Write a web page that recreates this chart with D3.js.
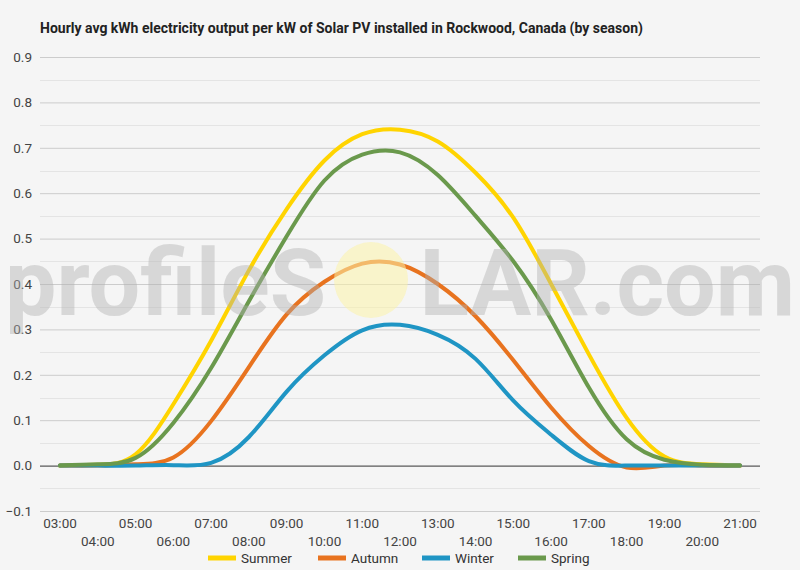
<!DOCTYPE html>
<html>
<head>
<meta charset="utf-8">
<script src="https://cdn.jsdelivr.net/npm/d3@7"></script>
<style>
  body { margin: 0; background: #f5f5f5; }
  svg { font-family: Roboto, "Liberation Sans", sans-serif; }
</style>
</head>
<body>
<script>
// hours of the day (x)
var hours = [3, 4, 5, 6, 7, 8, 9, 10, 11, 12, 13, 14, 15, 16, 17, 18, 19, 20, 21];
var hourLabels = hours.map(function(h) { return (h < 10 ? "0" : "") + h + ":00"; });
var yTicks = [-0.1, 0, 0.1, 0.2, 0.3, 0.4, 0.5, 0.6, 0.7, 0.8, 0.9];

// kWh per kW
var summer = [0, 0.002, 0.025, 0.135, 0.275, 0.43, 0.565, 0.672, 0.73, 0.74, 0.714, 0.645, 0.546, 0.40, 0.245, 0.105, 0.02, 0.003, 0];
var autumn = [0, 0, 0.003, 0.018, 0.098, 0.217, 0.333, 0.405, 0.445, 0.443, 0.40, 0.329, 0.232, 0.128, 0.043, -0.004, 0, 0, 0];
var winter = [0, 0, 0, 0.001, 0.006, 0.063, 0.163, 0.243, 0.298, 0.31, 0.288, 0.235, 0.143, 0.068, 0.01, 0, 0, 0, 0];
var spring = [0, 0.003, 0.017, 0.094, 0.215, 0.362, 0.505, 0.628, 0.685, 0.69, 0.64, 0.55, 0.45, 0.322, 0.172, 0.058, 0.013, 0.002, 0];

var seriesNames = ["Summer", "Autumn", "Winter", "Spring"];
var seriesValues = [summer, autumn, winter, spring];
var seriesColors = ["#ffd400", "#e8731f", "#1f95c4", "#6a994c"];

var width = 800, height = 570;
var svg = d3.select("body")
    .append("svg")
    .attr("width", width)
    .attr("height", height)
    .style("background-color", "#f5f5f5");

var x = d3.scaleLinear().domain([3, 21]).range([60, 740]);
var y = d3.scaleLinear().domain([-0.1, 0.9]).range([511, 57]);

// titel
svg.append("text")
    .attr("x", 40)
    .attr("y", 33)
    .style("font-size", "14px")
    .style("font-weight", "bold")
    .style("fill", "#222")
    .text("Hourly avg kWh electricity output per kW of Solar PV installed in Rockwood, Canada (by season)");

// minor gridlines
var minor = d3.range(-0.05, 0.9, 0.1);
svg.append("g").selectAll("line")
    .data(minor)
    .enter().append("line")
    .attr("x1", 40).attr("x2", 760)
    .attr("y1", function(d) { return Math.round(y(d)) + 0.5; })
    .attr("y2", function(d) { return Math.round(y(d)) + 0.5; })
    .attr("stroke", "#e4e4e4");

// Y-as
var yAxis = svg.append("g")
    .attr("transform", "translate(40,0)")
    .call(d3.axisLeft(y).tickValues(yTicks).tickSize(-720).tickFormat(d3.format(".1f")));
yAxis.select(".domain").remove();
yAxis.selectAll(".tick line")
    .attr("stroke", function(d) { return d === 0 ? "#333" : "#cccccc"; });
yAxis.selectAll(".tick text")
    .attr("x", -8)
    .style("font-size", "13.5px")
    .style("fill", "#444")
    .style("font-family", "Roboto, sans-serif");

// X-as labels, two rows
svg.append("g").selectAll("text")
    .data(hours)
    .enter().append("text")
    .attr("x", function(d) { return x(d); })
    .attr("y", function(d, i) { return i % 2 === 0 ? 528 : 546; })
    .attr("text-anchor", "middle")
    .style("font-size", "13.5px")
    .style("fill", "#444")
    .text(function(d, i) { return hourLabels[i]; });

// lijnen
var line = d3.line()
    .x(function(d, i) { return x(hours[i]); })
    .y(function(d) { return y(d); })
    .curve(d3.curveNatural);

seriesValues.forEach(function(vals, k) {
    svg.append("path")
        .datum(vals)
        .attr("d", line)
        .attr("fill", "none")
        .attr("stroke", seriesColors[k])
        .attr("stroke-width", 4)
        .attr("stroke-linecap", "round");
});

// watermark
var wm = svg.append("g").style("opacity", 0.42);
wm.append("text")
    .attr("x", 400)
    .attr("y", 315)
    .attr("text-anchor", "middle")
    .attr("textLength", 790)
    .attr("lengthAdjust", "spacingAndGlyphs")
    .style("font-size", "92px")
    .style("font-family", "Roboto, sans-serif")
    .style("font-weight", "bold")
    .style("fill", "#b0b0b0")
    .text("profileS\u2003LAR.com");
svg.append("ellipse")
    .attr("cx", 371)
    .attr("cy", 280)
    .attr("rx", 37)
    .attr("ry", 38)
    .style("fill", "#fbf3a8")
    .style("opacity", 0.55);

// legenda
var legendX = [208, 318, 422, 518];
var legend = svg.append("g").selectAll("g")
    .data(seriesNames)
    .enter().append("g")
    .attr("transform", function(d, i) { return "translate(" + legendX[i] + ",558)"; });
legend.append("line")
    .attr("x1", 0).attr("x2", 28)
    .attr("stroke", function(d, i) { return seriesColors[i]; })
    .attr("stroke-width", 5);
legend.append("text")
    .attr("x", 33)
    .attr("y", 5)
    .style("font-size", "13.5px")
    .style("fill", "#333")
    .text(function(d) { return d; });
</script>
</body>
</html>
